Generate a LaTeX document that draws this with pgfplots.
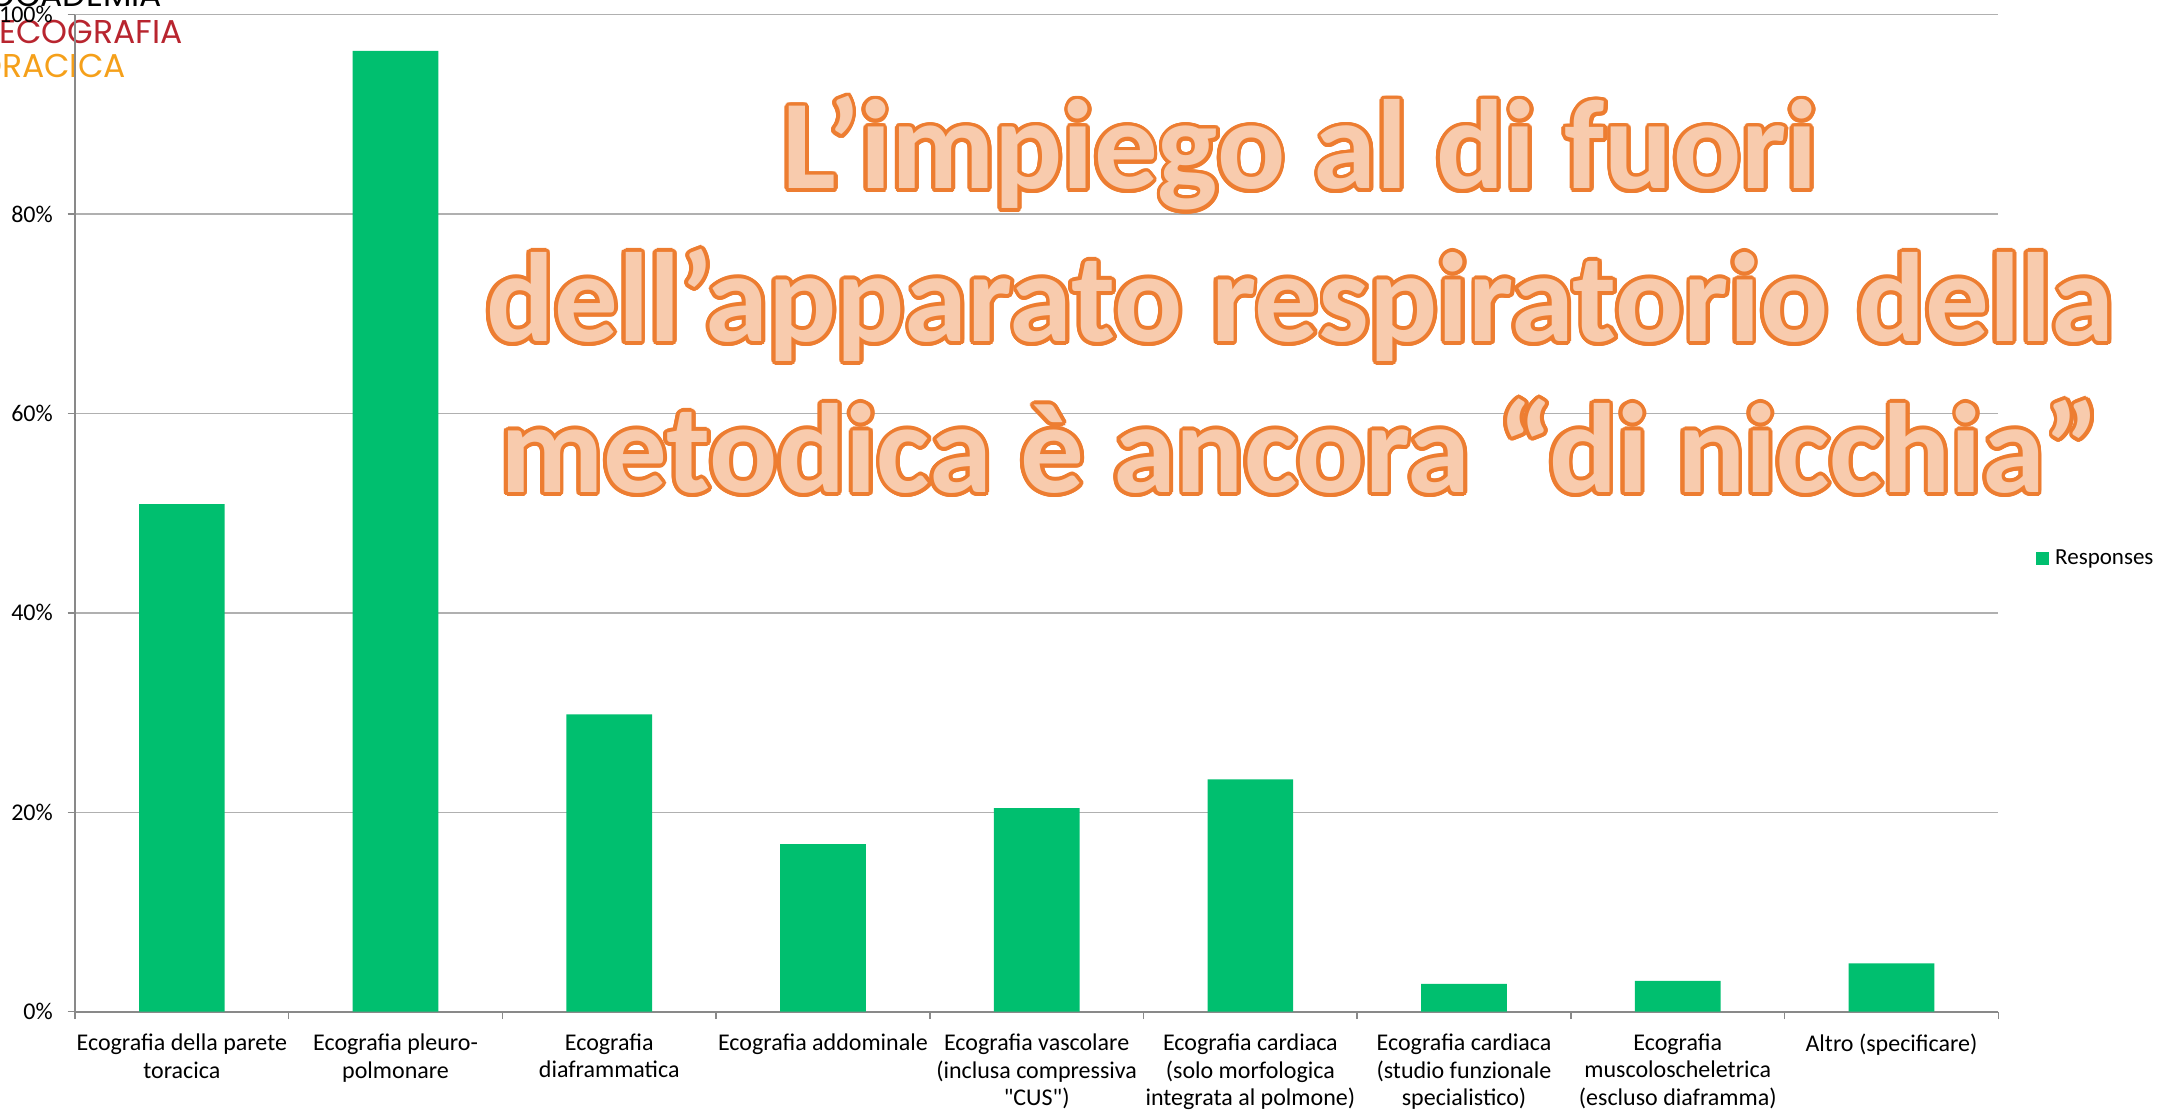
\documentclass[border=0pt]{standalone}
\usepackage{pgfplots}
\pgfplotsset{compat=1.18}
\usepackage{pgfplotstable}
\usepackage{fontspec}
\setmainfont{Carlito}
\newfontfamily\rawfont{Carlito}[Ligatures=TeXOff]
\newfontfamily\logofont{Poppins}
\usetikzlibrary{calc}
\definecolor{barg}{HTML}{00BF6F}
\definecolor{gridc}{HTML}{B0B0B0}
\definecolor{axisc}{HTML}{898989}
\definecolor{tline}{HTML}{ED7D31}
\definecolor{tfill}{HTML}{F8CBAD}
\definecolor{logored}{HTML}{B8252F}
\definecolor{logoor}{HTML}{F5A01A}

\pgfplotstableread{
x y
0 50.92
1 96.36
2 29.83
3 16.82
4 20.43
5 23.31
6 2.78
7 3.08
8 4.85
}\datatable

\newcommand\titleline[3]{%
  \foreach \a in {0,15,...,345}{%
    \node[anchor=base,inner sep=0pt,text=tline] at ($(#1,#2)+(\a:3.8pt)$) {\fontsize{127}{150}\selectfont\bfseries #3};}%
  \node[anchor=base,inner sep=0pt,text=tfill] at (#1,#2) {\fontsize{127}{150}\selectfont\bfseries #3};}

\begin{document}
\begin{tikzpicture}
\useasboundingbox (0,0) rectangle (2157pt,1111pt);
\node[anchor=base east, inner sep=0pt, text=black] at (162pt,1104.3pt) {\logofont\fontsize{33}{40}\selectfont ACCADEMIA};
\node[anchor=base east, inner sep=0pt, text=logored] at (183pt,1067.7pt) {\logofont\fontsize{33}{40}\selectfont ECOGRAFIA};
\node[anchor=base east, inner sep=0pt, text=logoor] at (126pt,1033.3pt) {\logofont\fontsize{33}{40}\selectfont TORACICA};
\begin{axis}[
  at={(75pt,99.3pt)}, anchor=south west,
  scale only axis, width=1923.3pt, height=997pt,
  ymin=0, ymax=100, xmin=-0.5, xmax=8.5,
  ybar, bar width=85.7pt,
  axis lines*=left,
  axis line style={draw=axisc, line width=2pt},
  ytick={0,20,40,60,80,100},
  yticklabel={\fontsize{24}{28}\selectfont\pgfmathprintnumber{\tick}\%},
  ymajorgrids, grid style={draw=gridc, line width=1.3pt},
  xtick={-0.5,0.5,1.5,2.5,3.5,4.5,5.5,6.5,7.5,8.5},
  xticklabels={{Ecografia della parete\\toracica},{Ecografia pleuro-\\polmonare},{Ecografia\\diaframmatica},{Ecografia addominale},{Ecografia vascolare\\(inclusa compressiva\\{\rawfont"}CUS{\rawfont"})},{Ecografia cardiaca\\(solo morfologica\\integrata al polmone)},{Ecografia cardiaca\\(studio funzionale\\specialistico)},{Ecografia\\muscoloscheletrica\\(escluso diaframma)},{Altro (specificare)},{}},
  tick align=outside, major tick length=7.5pt,
  tick style={draw=axisc, line width=1.5pt},
  /pgf/number format/assume math mode=true,
  tick label style={font=\fontsize{24}{27.5}\selectfont},
  xticklabel style={xshift=106.85pt, align=center, anchor=north, inner sep=0pt, yshift=-14.5pt},
  yticklabel style={anchor=east, inner sep=0pt, xshift=-14.5pt},
  legend style={at={(1.0196,0.455)}, anchor=west, draw=none, fill=none, inner sep=0pt,
    font=\fontsize{23}{28}\selectfont, column sep=4pt},
]
\addplot[fill=barg, draw=none, bar shift=0pt,
  legend image code/.code={\fill[barg] (0pt,-6.5pt) rectangle (13pt,6.5pt);}]
  table[x=x,y=y]{\datatable};
\addlegendentry{Responses}
\end{axis}
\titleline{1300pt}{922pt}{L’impiego al di fuori}
\titleline{1300pt}{769.3pt}{dell’apparato respiratorio della}
\titleline{1300pt}{618.3pt}{metodica è ancora “di nicchia”}
\end{tikzpicture}
\end{document}
